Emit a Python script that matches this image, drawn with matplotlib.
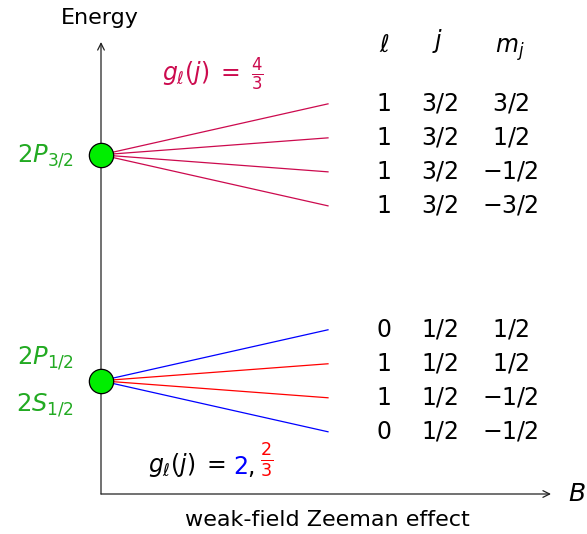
import matplotlib.pyplot as plt

# Zeeman splitting data (weak field)
levels = ["2P_{3/2}", "2P_{1/2}", "2S_{1/2}"]
E_upper = 6.65      # energy of 2P_3/2 (arb. units)
E_lower = 2.22      # energy of 2P_1/2 / 2S_1/2

upper_l = [1, 1, 1, 1]
upper_j = ["3/2", "3/2", "3/2", "3/2"]
upper_mj = [1.5, 0.5, -0.5, -1.5]
upper_g = [4 / 3, 4 / 3, 4 / 3, 4 / 3]
upper_scale = 0.5   # drawn splitting per g*m_j (as in the sketch)

lower_l = [0, 1, 1, 0]
lower_j = ["1/2", "1/2", "1/2", "1/2"]
lower_mj = [0.5, 0.5, -0.5, -0.5]
lower_g = [2, 2 / 3, 2 / 3, 2]
lower_scale = 1.0

B_end = 1.0

CRIMSON = "#cc0a4e"
GREEN_TXT = "#22aa22"
GREEN_DOT = "#00ee00"
BLUE = "#0000ff"
RED = "#ff0000"

W, H = 587, 534
X0, Y0 = 101, 494          # pixel position of the origin
SX, SY = 227.0, 51.0       # pixels per unit


def px(x, y):
    # pixel -> data coords (for placing text only)
    return (x - X0) / SX, (Y0 - y) / SY


def fmt_mj(v):
    s = f"{abs(v) * 2:.0f}/2"
    return ("-" if v < 0 else "") + s


plt.rcParams['mathtext.fontset'] = 'dejavusans'
plt.rcParams['font.family'] = 'DejaVu Sans'

fig = plt.figure(figsize=(W / 100, H / 100), dpi=100)
ax = fig.add_axes([0, 0, 1, 1])
ax.set_xlim(-X0 / SX, (W - X0) / SX)
ax.set_ylim(-(H - Y0) / SY, Y0 / SY)
ax.axis('off')

# axes arrows
arrow = dict(arrowstyle='->', color='#222222', lw=0.9, mutation_scale=12, shrinkA=0, shrinkB=0)
ax.annotate("", xy=px(X0, 42), xytext=(0, 0), arrowprops=arrow)
ax.annotate("", xy=px(551, Y0), xytext=(0, 0), arrowprops=arrow)

fs = 16
ax.text(*px(100, 18), "Energy", ha='center', va='center', fontsize=fs)
ax.text(*px(568, Y0), "$B$", ha='left', va='center', fontsize=fs + 2)
ax.text(*px(327, 520), "weak-field Zeeman effect", ha='center', va='center', fontsize=fs)

# split lines
for g, mj in zip(upper_g, upper_mj):
    ax.plot([0, B_end], [E_upper, E_upper + upper_scale * g * mj * B_end], color=CRIMSON, lw=0.9)
for g, mj in zip(lower_g, lower_mj):
    c = BLUE if g == 2 else RED
    ax.plot([0, B_end], [E_lower, E_lower + lower_scale * g * mj * B_end], color=c, lw=0.9)

# level dots
ax.plot([0, 0], [E_upper, E_lower], 'o', ms=17.5, mfc=GREEN_DOT, mec='black', mew=0.9, zorder=5)

# level labels
lfs = 17.5
ax.text(*px(74, 156), f"${levels[0]}$", ha='right', va='center', fontsize=lfs, color=GREEN_TXT)
ax.text(*px(74, 358), f"${levels[1]}$", ha='right', va='center', fontsize=lfs, color=GREEN_TXT)
ax.text(*px(74, 405), f"${levels[2]}$", ha='right', va='center', fontsize=lfs, color=GREEN_TXT)

# table header
tfs = 17
ax.text(*px(384, 45), r"$\ell$", ha='center', va='center', fontsize=tfs)
ax.text(*px(438, 41), r"$j$", ha='center', va='center', fontsize=tfs)
ax.text(*px(510, 50), r"$m_j$", ha='center', va='center', fontsize=tfs)

# table rows
rows = [(E_upper, upper_scale, upper_l, upper_j, upper_mj, upper_g),
        (E_lower, lower_scale, lower_l, lower_j, lower_mj, lower_g)]
for E, sc, ls, js, mjs, gs in rows:
    for l, j, mj, g in zip(ls, js, mjs, gs):
        y = E + sc * g * mj * B_end
        ax.text(px(384, 0)[0], y, f"{l}", ha='center', va='center', fontsize=tfs)
        ax.text(px(440, 0)[0], y, j, ha='center', va='center', fontsize=tfs)
        ax.text(px(510, 0)[0], y, "$" + fmt_mj(mj) + "$", ha='center', va='center', fontsize=tfs)

# g-factor labels
gfs = fs + 1
ax.text(*px(162, 74), r"$g_\ell(j)\;=\;\frac{4}{3}$", ha='left', va='center', fontsize=gfs, color=CRIMSON)

t1 = ax.text(*px(148, 465), r"$g_\ell(j)\;=$", ha='left', va='center', fontsize=gfs)
t2 = ax.annotate("$2$", xy=(1, 0), xycoords=t1, xytext=(5, 0), textcoords='offset points',
                 ha='left', va='bottom', fontsize=gfs, color=BLUE)
t3 = ax.annotate("$,$", xy=(1, 0), xycoords=t2, ha='left', va='bottom', fontsize=gfs)
ax.annotate(r"$\frac{2}{3}$", xy=(1, 0), xycoords=t3, xytext=(4, 0), textcoords='offset points',
            ha='left', va='bottom', fontsize=gfs + 1, color=RED)

fig.savefig("out.png", dpi=100)
